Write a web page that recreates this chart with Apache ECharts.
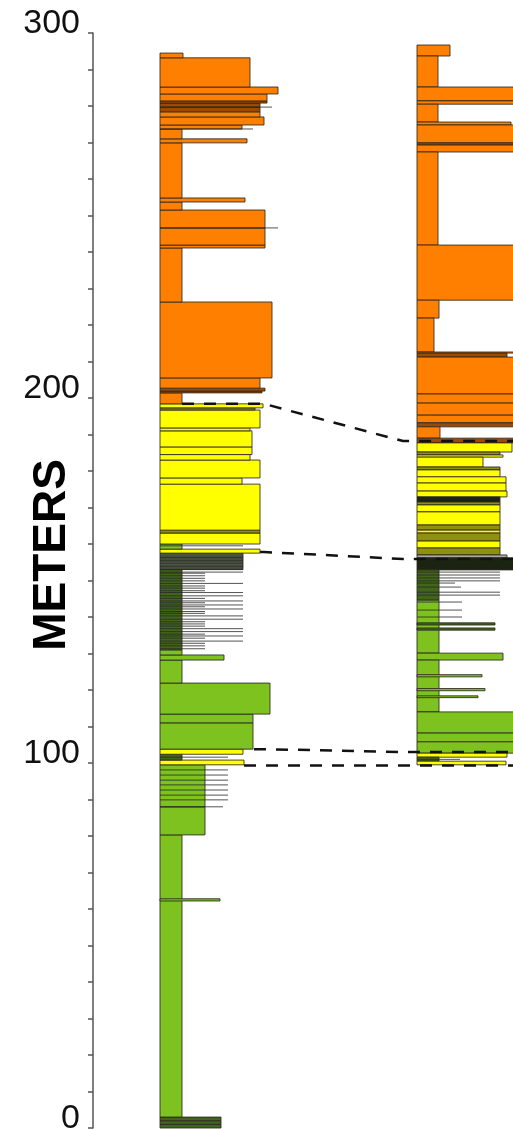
<!DOCTYPE html>
<html><head><meta charset="utf-8">
<script src="https://cdn.jsdelivr.net/npm/echarts@6/dist/echarts.min.js"></script>
<style>html,body{margin:0;padding:0;background:#fff}#c{width:513px;height:1129px}</style>
</head><body><div id="c"></div>
<script>
// ---- data (meters, bed width in grain-size units) ----
const yTicks = [0, 100, 200, 300];
// [base m, top m, width, lithology]
const column1Beds = [
  [0, 1.0, 61, 'g'], [1.0, 2.0, 61, 'g'], [2.0, 3.0, 61, 'g'],
  [3.0, 80.3, 22, 'G'], [62.2, 62.8, 60, 'G'],
  [80.3, 88.0, 45, 'G'], [88.0, 99.5, 45, 'G'],
  [99.5, 100.8, 84, 'Y'], [100.8, 102.4, 22, 'g'], [102.4, 103.8, 83, 'Y'],
  [103.8, 111.0, 93, 'G'], [111.0, 113.4, 93, 'G'], [113.4, 121.9, 110, 'G'],
  [121.9, 128.2, 22, 'G'], [128.2, 129.6, 64, 'G'], [129.6, 131.0, 22, 'G'],
  [131.0, 153.0, 22, 'g'], [153.0, 157.5, 83, 'h'],
  [157.5, 158.6, 100, 'Y'], [158.6, 160.0, 22, 'G'],
  [160.0, 163.0, 100, 'Y'], [163.0, 163.8, 100, 'y'], [163.8, 176.4, 100, 'Y'],
  [176.4, 178.1, 82, 'Y'], [178.1, 183.0, 100, 'Y'], [183.0, 184.5, 90, 'Y'],
  [184.5, 186.6, 92, 'Y'], [186.6, 191.0, 92, 'Y'], [191.0, 191.8, 90, 'Y'],
  [191.8, 196.7, 100, 'Y'], [196.7, 197.3, 95, 'y'], [197.3, 198.4, 103, 'Y'],
  [198.4, 201.4, 22, 'O'], [201.4, 201.9, 102, 'o'], [201.9, 202.7, 105, 'o'],
  [202.7, 205.5, 100, 'O'], [205.5, 226.3, 112, 'O'], [226.3, 241.1, 22, 'O'],
  [241.1, 241.9, 105, 'O'], [241.9, 246.6, 105, 'O'], [246.6, 251.5, 105, 'O'],
  [251.5, 253.7, 22, 'O'], [253.7, 254.8, 85, 'O'], [254.8, 269.9, 22, 'O'],
  [269.9, 271.0, 87, 'O'], [271.0, 273.7, 22, 'O'], [273.7, 274.8, 82, 'O'],
  [274.8, 277.0, 104, 'O'], [277.0, 278.4, 100, 'O'], [278.4, 279.7, 100, 'o'],
  [279.7, 280.8, 100, 'o'], [280.8, 281.4, 107, 'o'], [281.4, 283.3, 107, 'O'],
  [283.3, 285.2, 118, 'O'], [285.2, 293.2, 90, 'O'], [293.2, 294.5, 23, 'O']
];
const column2Beds = [
  [293.7, 296.7, 33, 'O'], [285.2, 293.7, 21, 'O'], [281.4, 285.2, 110, 'O'],
  [280.5, 281.4, 110, 'O'], [275.6, 280.5, 21, 'O'], [274.8, 275.6, 94, 'O'],
  [269.9, 274.8, 110, 'O'], [269.3, 269.9, 110, 'o'], [267.4, 269.3, 110, 'O'],
  [241.9, 267.4, 21, 'O'], [226.8, 241.9, 110, 'O'], [221.9, 226.8, 22, 'O'],
  [212.6, 221.9, 17, 'O'], [212.3, 212.6, 110, 'O'], [211.2, 212.3, 90, 'o'],
  [201.1, 211.2, 110, 'O'], [198.6, 201.1, 110, 'O'], [195.3, 198.6, 110, 'O'],
  [193.2, 195.3, 110, 'O'], [192.1, 193.2, 110, 'o'], [189.0, 192.1, 23, 'O'],
  [187.7, 189.0, 110, 'o'],
  [185.2, 187.7, 95, 'Y'], [184.4, 185.2, 83, 'y'], [183.8, 184.4, 86, 'Y'],
  [181.1, 183.8, 66, 'Y'], [180.3, 181.1, 83, 'y'], [178.4, 180.3, 83, 'Y'],
  [176.7, 178.4, 89, 'Y'], [174.5, 176.7, 89, 'Y'], [172.9, 174.5, 90, 'Y'],
  [171.5, 172.9, 83, 'k'], [170.7, 171.5, 83, 'y'], [168.8, 170.7, 83, 'Y'],
  [165.2, 168.8, 83, 'Y'], [163.8, 165.2, 83, 'y'], [163.0, 163.8, 83, 'Y'],
  [160.8, 163.0, 83, 'y'], [158.9, 160.8, 83, 'Y'], [157.0, 158.9, 83, 'y'],
  [156.2, 157.0, 90, 'L'], [152.9, 156.2, 110, 'k'],
  [144.6, 152.9, 22, 'g'], [130.1, 144.6, 22, 'G'],
  [137.8, 138.4, 78, 'g'], [136.4, 137.0, 78, 'g'],
  [128.2, 130.1, 86, 'G'], [114.0, 128.2, 22, 'G'],
  [123.6, 124.2, 65, 'G'], [119.8, 120.4, 68, 'G'], [117.9, 118.4, 61, 'G'],
  [108.2, 114.0, 110, 'G'], [105.8, 108.2, 110, 'G'], [102.7, 105.8, 110, 'G'],
  [101.6, 102.7, 90, 'Y'], [100.5, 101.6, 22, 'g'], [99.5, 100.5, 89, 'Y']
];
// thin laminae: [level m, width]
const column1Laminae = [
  [279.7, 112], [273.7, 93], [246.6, 118], [159.5, 83], [101.6, 68],
  [98.1, 68], [96.7, 68], [95.3, 68], [94.0, 68], [92.6, 68], [91.2, 68], [89.9, 68], [88.0, 63],
  [157.3, 83], [156.7, 83], [156.3, 83], [155.9, 83], [155.5, 83], [155.1, 83],
  [154.7, 83], [154.2, 83], [153.8, 83], [153.4, 83], [153.0, 83],
  [152.3, 83], [149.2, 83], [146.7, 83], [145.8, 83], [144.4, 83], [143.3, 83],
  [142.2, 83], [140.3, 83], [139.4, 83], [136.8, 83], [136.0, 83], [134.8, 83], [133.4, 83],
  [152.0, 45], [151.3, 45], [150.6, 45], [149.9, 45], [148.5, 45], [147.9, 45], [147.2, 45],
  [145.1, 45], [143.9, 45], [142.8, 45], [141.5, 45], [141.0, 45], [138.7, 45], [138.1, 45],
  [137.5, 45], [135.3, 45], [134.2, 45], [132.8, 45], [132.1, 45], [131.3, 45]
];
const column2Laminae = [
  [152.3, 83], [151.5, 83], [150.7, 83], [149.9, 83], [149.3, 38], [148.2, 44],
  [146.8, 83], [146.0, 83], [144.1, 45], [141.9, 45], [140.0, 45], [101.0, 43]
];
// correlation lines: level in column 1, level in column 2
const corrColumn1 = [198.4, 157.8, 103.8, 99.3];
const corrColumn2 = [188.2, 155.9, 103.0, 99.3];
const corrStartWidth = [22, 100, 94, 84];

// ---- layout / style ----
const columnOffset = [67, 324];
const LITH = {O:'#FF8000', o:'#9C4A00', Y:'#FFFF00', y:'#8F8F10', G:'#7DC21E', g:'#41661A',
  k:'#1B2412', h:'#5C6A50', L:'#A8A8A8'};

function bedSeries(ci, beds) {
  return {
    type: 'custom', silent: true, z: 2,
    data: beds.map(b => [b[0], b[1], b[2]]),
    encode: {y: [0, 1], x: 2},
    renderItem(params, api) {
      const b = beds[params.dataIndex];
      const x0 = columnOffset[ci];
      const p1 = api.coord([x0, b[1]]);
      const p2 = api.coord([x0 + b[2], b[0]]);
      return {type: 'rect', shape: {x: p1[0], y: p1[1], width: p2[0] - p1[0], height: p2[1] - p1[1]},
        style: {fill: LITH[b[3]], stroke: 'rgba(45,40,30,0.85)', lineWidth: 1}};
    }
  };
}
function laminaSeries(ci, lam) {
  return {
    type: 'custom', silent: true, z: 3,
    data: lam.map(l => [l[0], l[1]]),
    encode: {y: 0, x: 1},
    renderItem(params, api) {
      const l = lam[params.dataIndex];
      const x0 = columnOffset[ci];
      const a = api.coord([x0, l[0]]);
      const b = api.coord([x0 + l[1], l[0]]);
      return {type: 'line', shape: {x1: a[0], y1: a[1], x2: b[0], y2: b[1]},
        style: {stroke: 'rgba(40,40,40,0.8)', lineWidth: 1}};
    }
  };
}
const corrSeries = {
  type: 'custom', silent: true, z: 4,
  data: corrColumn1.map((v, i) => [v, corrColumn2[i]]),
  encode: {y: [0, 1]},
  renderItem(params, api) {
    const i = params.dataIndex;
    const m1 = corrColumn1[i], m2 = corrColumn2[i];
    const pts = [
      api.coord([columnOffset[0] + corrStartWidth[i], m1]),
      api.coord([columnOffset[0] + 104, m1]),
      api.coord([columnOffset[1] - 14, m2]),
      api.coord([columnOffset[1] + 110, m2])
    ];
    return {type: 'polyline', shape: {points: pts},
      style: {stroke: '#111', lineWidth: 2.5, lineDash: [12, 10], fill: null}};
  }
};

const chart = echarts.init(document.getElementById('c'), null, {renderer: 'canvas'});
chart.setOption({
  animation: false,
  backgroundColor: '#fff',
  grid: {left: 93, right: 0, top: 33, bottom: 1, containLabel: false, outerBoundsMode: 'none'},
  xAxis: {type: 'value', min: 0, max: 420, show: false},
  yAxis: {
    type: 'value', min: 0, max: 300, interval: 10,
    axisLine: {show: true, lineStyle: {color: '#555', width: 1.5}},
    axisTick: {show: true, length: 5, lineStyle: {color: '#555', width: 1.5}},
    splitLine: {show: false},
    axisLabel: {
      margin: 13, fontSize: 34, color: '#111', fontFamily: 'Liberation Sans, Arial, sans-serif',
      verticalAlign: 'bottom', lineHeight: 18,
      formatter: v => (yTicks.indexOf(v) >= 0 ? String(v) : '')
    }
  },
  graphic: [{
    type: 'text', x: 52, y: 555, rotation: Math.PI / 2,
    style: {text: 'METERS', font: 'bold 46px "Liberation Sans", Arial, sans-serif', fill: '#000',
      textAlign: 'center', textVerticalAlign: 'middle'}
  }],
  series: [
    bedSeries(0, column1Beds), bedSeries(1, column2Beds),
    laminaSeries(0, column1Laminae), laminaSeries(1, column2Laminae),
    corrSeries
  ]
});
</script></body></html>
